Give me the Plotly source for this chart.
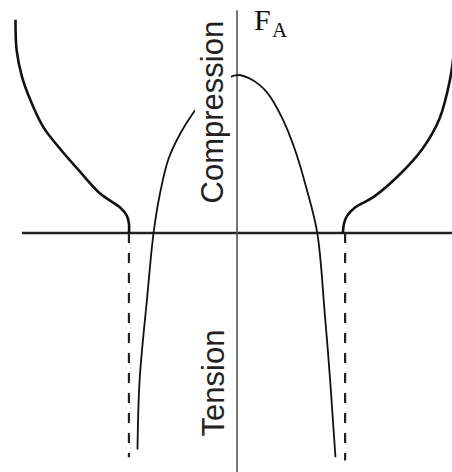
import plotly.graph_objects as go

# Axial force F_A versus displacement (normalised units)
# Outer curves: left and right branches rising from the vertical asymptotes
outer_left_x = [-2.07, -2.06, -2.01, -1.93, -1.81, -1.65, -1.47, -1.28, -1.09, -1.03, -1.01, -1.01]
outer_left_y = [1.35, 1.16, 0.99, 0.84, 0.67, 0.53, 0.39, 0.25, 0.16, 0.11, 0.06, 0.0]

outer_right_x = [0.99, 1.00, 1.03, 1.10, 1.28, 1.52, 1.73, 1.89, 1.99, 2.03, 2.06]
outer_right_y = [0.0, 0.06, 0.11, 0.16, 0.23, 0.37, 0.53, 0.72, 0.97, 1.16, 1.35]

# Inner curve: compression peak at the origin, tension beyond the crossings
inner_x = [-0.93, -0.91, -0.84, -0.78, -0.72, -0.64, -0.53, -0.41, -0.28, -0.14, 0.0,
           0.14, 0.28, 0.42, 0.54, 0.65, 0.75, 0.82, 0.87, 0.92]
inner_y = [-1.37, -0.93, -0.41, 0.0, 0.25, 0.47, 0.63, 0.76, 0.87, 0.96, 1.0,
           0.97, 0.89, 0.73, 0.53, 0.28, 0.0, -0.51, -0.93, -1.42]

# Dashed asymptotes below the axis
asym_x = [-1.01, 1.01]
asym_bottom = [-1.42, -1.44]

# Axis extents
h_axis_x = [-2.01, 2.2]
v_axis_y = [1.41, -1.6]

X_RANGE = [-2.215, 2.009]
Y_RANGE = [-1.513, 1.475]

fig = go.Figure()

# horizontal axis
fig.add_trace(go.Scatter(x=h_axis_x, y=[0, 0], mode="lines",
                         line=dict(color="#222222", width=2.6), hoverinfo="skip"))
# vertical axis
fig.add_trace(go.Scatter(x=[0, 0], y=v_axis_y, mode="lines",
                         line=dict(color="#555555", width=1.6), hoverinfo="skip"))

# dashed asymptotes
for ax_x, yb in zip(asym_x, asym_bottom):
    fig.add_trace(go.Scatter(x=[ax_x, ax_x], y=[0, yb], mode="lines",
                             line=dict(color="#222222", width=2.2, dash="10px,10px"),
                             hoverinfo="skip"))

curve_line = dict(color="#111111", width=2.6, shape="spline", smoothing=1.0)
fig.add_trace(go.Scatter(x=outer_left_x, y=outer_left_y, mode="lines", line=curve_line))
fig.add_trace(go.Scatter(x=outer_right_x, y=outer_right_y, mode="lines", line=curve_line))
fig.add_trace(go.Scatter(x=inner_x, y=inner_y, mode="lines",
                         line=dict(color="#111111", width=1.8, shape="spline", smoothing=1.0)))

fig.add_annotation(x=-0.225, y=0.769, xref="x", yref="y", text="Compression",
                   textangle=-90, showarrow=False, bgcolor="white", borderpad=0,
                   font=dict(family="Liberation Sans", size=31, color="#222222"))
fig.add_annotation(x=-0.225, y=-0.946, xref="x", yref="y", text="Tension",
                   textangle=-90, showarrow=False,
                   font=dict(family="Liberation Sans", size=31, color="#222222"))

# axis label F with subscript A
fig.add_annotation(x=0.24, y=1.35, xref="x", yref="y", text="F",
                   xanchor="center", yanchor="middle", showarrow=False,
                   font=dict(family="Liberation Serif", size=30, color="#111111"))
fig.add_annotation(x=0.40, y=1.285, xref="x", yref="y", text="A",
                   xanchor="center", yanchor="middle", showarrow=False,
                   font=dict(family="Liberation Serif", size=21, color="#111111"))

fig.update_layout(
    width=452, height=472,
    margin=dict(l=0, r=0, t=0, b=0),
    paper_bgcolor="white", plot_bgcolor="white",
    showlegend=False,
    xaxis=dict(range=X_RANGE, visible=False, fixedrange=True),
    yaxis=dict(range=Y_RANGE, visible=False, fixedrange=True),
)

fig.write_html("out.html")
